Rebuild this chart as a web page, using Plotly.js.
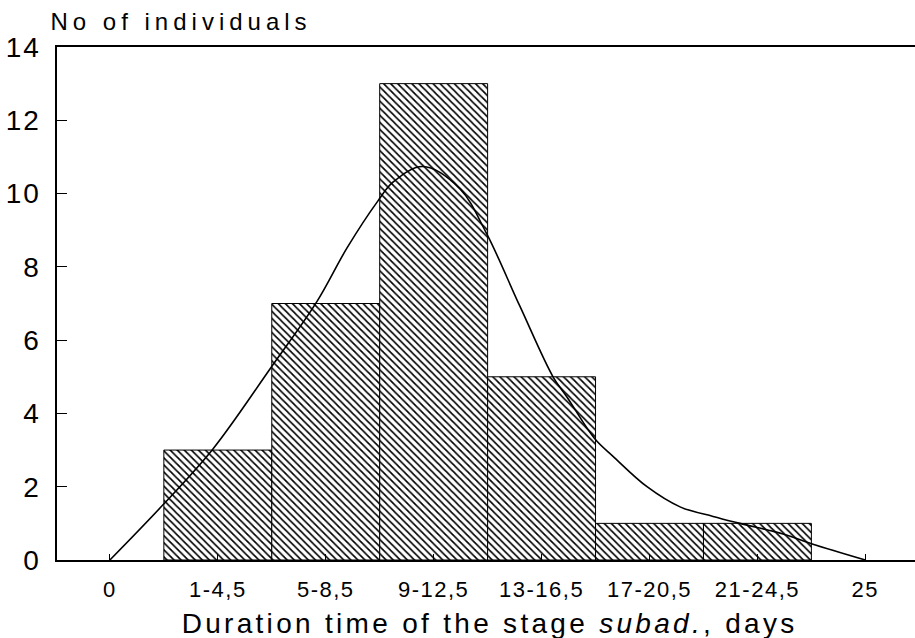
<!DOCTYPE html>
<html>
<head>
<meta charset="utf-8">
<script src="https://cdn.plot.ly/plotly-3.0.1.min.js"></script>
<style>
  html, body { margin: 0; padding: 0; background: #fff; }
  #chart { width: 915px; height: 638px; }
  .xtick text { letter-spacing: 1.5px; }
  .ytick text { letter-spacing: 2px; }
  .annotation[data-index="0"] .annotation-text { letter-spacing: 5px; }
  .annotation[data-index="1"] .annotation-text { letter-spacing: 3.3px; }
</style>
</head>
<body>
<div id="chart"></div>
<script>
// Category positions (index along the axis) and tick labels
const tickPositions = [0, 1, 2, 3, 4, 5, 6, 7];
const tickLabels = ['0', '1-4,5', '5-8,5', '9-12,5', '13-16,5', '17-20,5', '21-24,5', '25'];

// Histogram bars: class position and number of individuals
const barPositions = [1, 2, 3, 4, 5, 6];
const barCounts = [3, 7, 13, 5, 1, 1];

// Fitted curve
const curveX = [0, 0.49, 0.955, 1.49, 1.918, 2.196, 2.484, 2.623, 2.9, 3.24, 3.485, 3.8, 4.106, 4.235, 4.495, 4.662, 4.977, 5.283, 5.589, 5.839, 6.237, 6.515, 7.0];
const curveY = [0, 1.5, 3.03, 5.24, 7.05, 8.51, 9.8, 10.31, 10.74, 10.14, 8.94, 6.92, 5.0, 4.45, 3.3, 2.83, 2.0, 1.45, 1.19, 1.0, 0.71, 0.43, 0];

const yTicks = [0, 2, 4, 6, 8, 10, 12, 14];

const FONT = '"Liberation Sans", Arial, Helvetica, sans-serif';

const traces = [
  {
    type: 'bar',
    x: barPositions,
    y: barCounts,
    width: 1,
    marker: {
      color: '#ffffff',
      line: { color: '#000000', width: 1 },
      pattern: { shape: '\\', fgcolor: '#000000', bgcolor: '#ffffff', size: 5, solidity: 0.33 }
    },
    hoverinfo: 'skip',
    showlegend: false
  },
  {
    type: 'scatter',
    mode: 'lines',
    x: curveX,
    y: curveY,
    line: { color: '#000000', width: 1.6, shape: 'spline', smoothing: 1 },
    hoverinfo: 'skip',
    showlegend: false
  }
];

const layout = {
  width: 915,
  height: 638,
  margin: { l: 57, r: 0, t: 47, b: 78 },
  paper_bgcolor: '#ffffff',
  plot_bgcolor: '#ffffff',
  font: { family: FONT, color: '#000000' },
  bargap: 0,
  xaxis: {
    range: [-0.49, 7.46],
    tickmode: 'array',
    tickvals: tickPositions,
    ticktext: tickLabels,
    tickfont: { family: FONT, size: 22, color: '#000' },
    ticks: 'inside',
    ticklen: 6,
    tickcolor: '#000',
    ticklabelstandoff: 9,
    showgrid: false,
    zeroline: false,
    showline: true,
    linecolor: '#000',
    linewidth: 2,
    mirror: true
  },
  yaxis: {
    range: [0, 14],
    tickmode: 'array',
    tickvals: yTicks,
    ticktext: yTicks.map(String),
    tickfont: { family: FONT, size: 28, color: '#000' },
    ticks: 'inside',
    ticklen: 10,
    tickcolor: '#000',
    ticklabelstandoff: 8,
    showgrid: false,
    zeroline: false,
    showline: true,
    linecolor: '#000',
    linewidth: 2.5,
    mirror: false
  },
  annotations: [
    {
      text: 'No of individuals',
      xref: 'paper', yref: 'paper',
      x: 0.1445, y: 1.049,
      xanchor: 'center', yanchor: 'middle',
      showarrow: false,
      font: { family: FONT, size: 24, color: '#000' }
    },
    {
      text: 'Duration time of the stage <i>subad.</i>, days',
      xref: 'paper', yref: 'paper',
      x: 0.5035, y: -0.123,
      xanchor: 'center', yanchor: 'middle',
      showarrow: false,
      font: { family: FONT, size: 28, color: '#000' }
    }
  ]
};

Plotly.newPlot('chart', traces, layout, { displayModeBar: false, staticPlot: true });
</script>
</body>
</html>
